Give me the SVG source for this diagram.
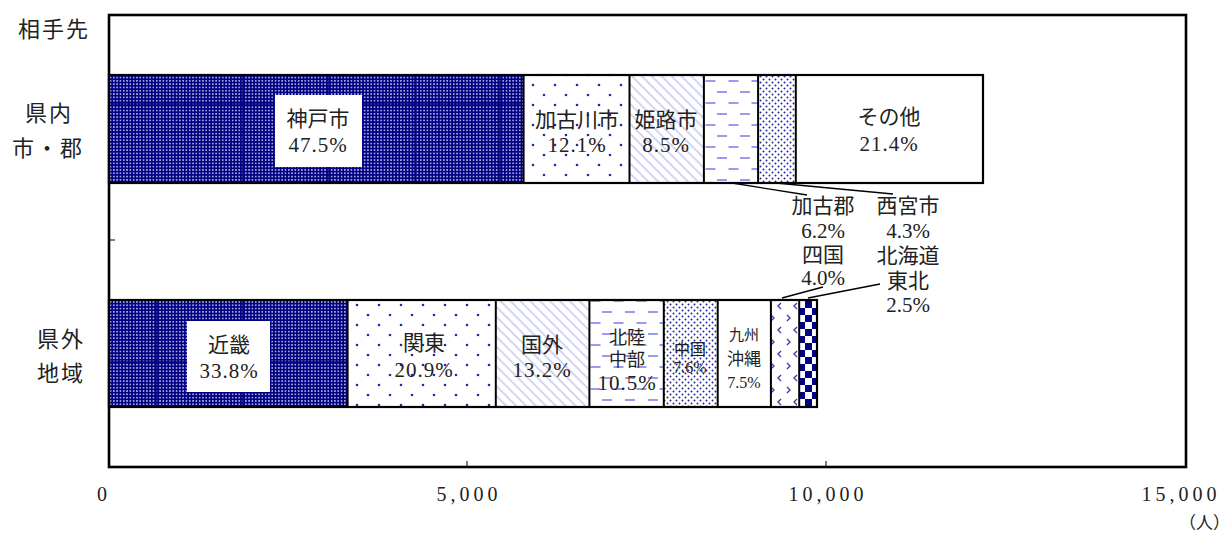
<svg xmlns="http://www.w3.org/2000/svg" width="1231" height="535" viewBox="0 0 1231 535">
<style>
.t{font-family:"Liberation Serif","Noto Sans CJK JP",serif;fill:#222;text-anchor:middle}
.l{font-size:21px}
.m{font-size:18px}
.s{font-size:16px}
.ax{font-size:20px;letter-spacing:4px}
.cat{font-size:22px;letter-spacing:2px}
.seg{stroke:#000;stroke-width:2}
.lead{stroke:#000;stroke-width:1.3;fill:none}
.grain{stroke:#000080;stroke-width:1.4}
</style>
<defs>
<pattern id="pNavy" patternUnits="userSpaceOnUse" width="3.3" height="3.3">
<rect width="3.3" height="3.3" fill="#000080"/>
<circle cx="1.65" cy="1.65" r="0.85" fill="#dcdcff"/>
</pattern>
<pattern id="pSparse" patternUnits="userSpaceOnUse" width="22" height="20">
<rect width="22" height="20" fill="#fff"/>
<circle cx="5" cy="5" r="1.3" fill="#2a2aa0"/>
<circle cx="16" cy="15" r="1.3" fill="#2a2aa0"/>
</pattern>
<pattern id="pHatch" patternUnits="userSpaceOnUse" width="7" height="7" patternTransform="rotate(-45)">
<rect width="7" height="7" fill="#fff"/>
<rect x="0" y="0" width="2" height="7" fill="#d4d4f7"/>
</pattern>
<pattern id="pDash" patternUnits="userSpaceOnUse" width="23" height="22">
<rect width="23" height="22" fill="#fff"/>
<rect x="4" y="3" width="10" height="2" fill="#9a9af0"/>
<rect x="15.5" y="14" width="10" height="2" fill="#9a9af0"/>
<rect x="-7.5" y="14" width="10" height="2" fill="#9a9af0"/>
</pattern>
<pattern id="pDense" patternUnits="userSpaceOnUse" width="6" height="6">
<rect width="6" height="6" fill="#fff"/>
<circle cx="1.5" cy="1.5" r="0.95" fill="#20209a"/>
<circle cx="4.5" cy="4.5" r="0.95" fill="#20209a"/>
</pattern>
<pattern id="pChev" patternUnits="userSpaceOnUse" width="16" height="24">
<rect width="16" height="24" fill="#fff"/>
<polyline points="3,3 6,6 3,9" fill="none" stroke="#3a3aaa" stroke-width="1.3"/>
<polyline points="13,15 10,18 13,21" fill="none" stroke="#3a3aaa" stroke-width="1.3"/>
</pattern>
<pattern id="pCheck" patternUnits="userSpaceOnUse" width="14" height="14">
<rect width="14" height="14" fill="#fff"/>
<rect x="0" y="0" width="7" height="7" fill="#000080"/>
<rect x="7" y="7" width="7" height="7" fill="#000080"/>
</pattern>
</defs>
<rect width="1231" height="535" fill="#fff"/>

<g id="frame">
<rect x="109" y="15" width="1077" height="452" fill="#fff" stroke="#000" stroke-width="2.6"/>
<line x1="467" y1="467" x2="467" y2="461" stroke="#000" stroke-width="1"/>
<line x1="826" y1="467" x2="826" y2="461" stroke="#000" stroke-width="1"/>
<line x1="109" y1="240" x2="115" y2="240" stroke="#000" stroke-width="1"/>
</g>

<g id="axis-labels">
<text class="t ax" x="104" y="501">0</text>
<text class="t ax" x="469" y="501">5,000</text>
<text class="t ax" x="828" y="501">10,000</text>
<text class="t ax" x="1181" y="501">15,000</text>
<text class="t" style="font-size:17px;text-anchor:end" x="1230" y="529">（人）</text>
</g>

<g id="category-labels">
<text class="t cat" x="54" y="37">相手先</text>
<text class="t cat" x="49" y="121">県内</text>
<text class="t cat" x="48" y="156">市・郡</text>
<text class="t cat" x="61" y="347">県外</text>
<text class="t cat" x="61" y="381">地域</text>
</g>

<g id="bar-kennai">
<g id="kobe">
<rect x="109" y="75" width="414.6" height="108" fill="url(#pNavy)"/>
<line class="grain" x1="155" y1="76" x2="155" y2="182"/>
<line class="grain" x1="243" y1="76" x2="243" y2="182"/>
<line class="grain" x1="328" y1="76" x2="328" y2="182"/>
<line class="grain" x1="415" y1="76" x2="415" y2="182"/>
<line class="grain" x1="500" y1="76" x2="500" y2="182"/>
<line class="grain" x1="110" y1="104" x2="522" y2="104"/>
<rect x="275" y="95" width="87" height="72" fill="#fff"/>
<text class="t l" x="318" y="126">神戸市</text>
<text class="t l" x="318" y="152" letter-spacing="1">47.5%</text>
</g>
<g id="kakogawa">
<rect x="523.6" y="75" width="105.9" height="108" fill="url(#pSparse)"/>
<text class="t l" x="577" y="127">加古川市</text>
<text class="t l" x="577" y="152" letter-spacing="1">12.1%</text>
</g>
<g id="himeji">
<rect x="629.5" y="75" width="74.4" height="108" fill="url(#pHatch)"/>
<text class="t l" x="666" y="127">姫路市</text>
<text class="t l" x="666" y="152" letter-spacing="1">8.5%</text>
</g>
<g id="kakogun">
<rect x="703.9" y="75" width="54.2" height="108" fill="url(#pDash)"/>
</g>
<g id="nishinomiya">
<rect x="758.1" y="75" width="37.7" height="108" fill="url(#pDense)"/>
</g>
<g id="sonota">
<rect x="795.8" y="75" width="187.2" height="108" fill="#fff"/>
<text class="t l" x="889" y="124">その他</text>
<text class="t l" x="889" y="151" letter-spacing="1">21.4%</text>
</g>
<rect x="109" y="75" width="874" height="108" fill="none" stroke="#000" stroke-width="2.2"/>
<line class="seg" x1="523.6" y1="75" x2="523.6" y2="183"/>
<line class="seg" x1="629.5" y1="75" x2="629.5" y2="183"/>
<line class="seg" x1="703.9" y1="75" x2="703.9" y2="183"/>
<line class="seg" x1="758.1" y1="75" x2="758.1" y2="183"/>
<line class="seg" x1="795.8" y1="75" x2="795.8" y2="183"/>
</g>

<g id="bar-kengai">
<g id="kinki">
<rect x="109" y="300" width="238.6" height="107" fill="url(#pNavy)"/>
<line class="grain" x1="157" y1="301" x2="157" y2="406"/>
<line class="grain" x1="243" y1="301" x2="243" y2="406"/>
<line class="grain" x1="330" y1="301" x2="330" y2="406"/>
<line class="grain" x1="110" y1="362" x2="346" y2="362"/>
<rect x="187" y="321" width="83" height="71" fill="#fff"/>
<text class="t l" x="229" y="352">近畿</text>
<text class="t l" x="229" y="378" letter-spacing="1">33.8%</text>
</g>
<g id="kanto">
<rect x="347.6" y="300" width="148.2" height="107" fill="url(#pSparse)"/>
<text class="t l" x="424" y="350">関東</text>
<text class="t l" x="424" y="377" letter-spacing="1">20.9%</text>
</g>
<g id="kokugai">
<rect x="495.8" y="300" width="93.6" height="107" fill="url(#pHatch)"/>
<text class="t l" x="542" y="352">国外</text>
<text class="t l" x="542" y="377" letter-spacing="1">13.2%</text>
</g>
<g id="hokuriku">
<rect x="589.4" y="300" width="74.4" height="107" fill="url(#pDash)"/>
<text class="t m" x="627" y="344">北陸</text>
<text class="t m" x="627" y="366">中部</text>
<text class="t l" x="627" y="390" letter-spacing="1">10.5%</text>
</g>
<g id="chugoku">
<rect x="663.8" y="300" width="53.9" height="107" fill="url(#pDense)"/>
<text class="t s" x="690" y="355">中国</text>
<text class="t s" x="690" y="373">7.6%</text>
</g>
<g id="kyushu">
<rect x="717.7" y="300" width="53.2" height="107" fill="#fff"/>
<text class="t" style="font-size:15px" x="744" y="340">九州</text>
<text class="t" style="font-size:17px" x="744" y="365">沖縄</text>
<text class="t" style="font-size:16px" x="744" y="388">7.5%</text>
</g>
<g id="shikoku">
<rect x="770.9" y="300" width="28.3" height="107" fill="url(#pChev)"/>
</g>
<g id="hokkaido">
<rect x="799.2" y="300" width="17.8" height="107" fill="url(#pCheck)"/>
</g>
<rect x="109" y="300" width="708" height="107" fill="none" stroke="#000" stroke-width="2.2"/>
<line class="seg" x1="347.6" y1="300" x2="347.6" y2="407"/>
<line class="seg" x1="495.8" y1="300" x2="495.8" y2="407"/>
<line class="seg" x1="589.4" y1="300" x2="589.4" y2="407"/>
<line class="seg" x1="663.8" y1="300" x2="663.8" y2="407"/>
<line class="seg" x1="717.7" y1="300" x2="717.7" y2="407"/>
<line class="seg" x1="770.9" y1="300" x2="770.9" y2="407"/>
<line class="seg" x1="799.2" y1="300" x2="799.2" y2="407"/>
</g>

<g id="callout-labels">
<text class="t l" x="823" y="213">加古郡</text>
<text class="t l" x="823" y="238">6.2%</text>
<text class="t l" x="908" y="213">西宮市</text>
<text class="t l" x="908" y="238">4.3%</text>
<text class="t l" x="823" y="262">四国</text>
<text class="t l" x="823" y="285">4.0%</text>
<text class="t l" x="908" y="263">北海道</text>
<text class="t l" x="908" y="288">東北</text>
<text class="t l" x="908" y="312">2.5%</text>
</g>

<g id="connectors">
<line class="lead" x1="732" y1="183" x2="807" y2="195"/>
<line class="lead" x1="776" y1="183" x2="893" y2="194"/>
<line class="lead" x1="823" y1="287" x2="782" y2="298"/>
<line class="lead" x1="880" y1="284" x2="808" y2="298"/>
</g>
</svg>
